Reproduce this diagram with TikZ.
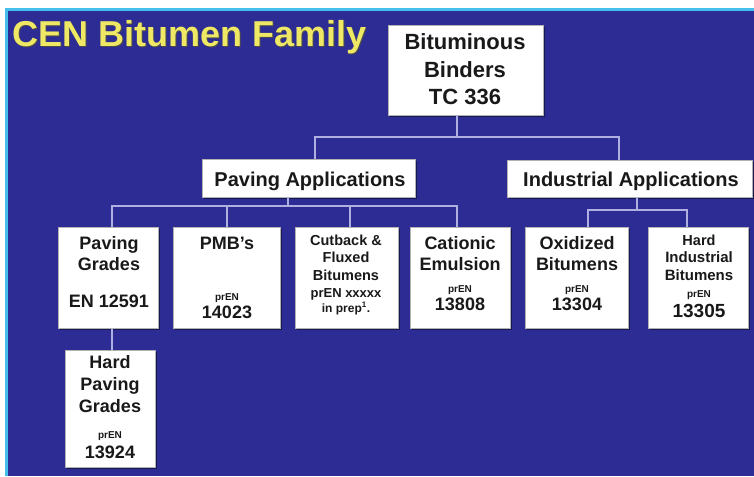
\documentclass[tikz,border=0pt]{standalone}
\usepackage{fontspec}
\setmainfont{Liberation Sans}
\usetikzlibrary{shadows}
\definecolor{bgblue}{RGB}{44,44,148}
\definecolor{edgecyan}{RGB}{70,190,235}
\definecolor{titleyellow}{RGB}{238,232,100}
\definecolor{connc}{RGB}{175,175,225}
\definecolor{txt}{RGB}{25,25,25}
\newcommand\myfs[1]{\fontsize{#1}{#1}\selectfont}
\tikzset{
  box/.style={draw=gray!60, line width=0.6pt, fill=white, inner sep=0pt,
    drop shadow={shadow xshift=2pt, shadow yshift=-2pt, opacity=0.45, fill=black}},
  conn/.style={draw=connc, line width=1.3pt},
  lbl/.style={anchor=base, inner sep=0pt, text=txt, font=\bfseries}
}
\begin{document}
\begin{tikzpicture}[x=1pt,y=-1pt]
\useasboundingbox (0,0) rectangle (754,476);
% background
\fill[white] (0,0) rectangle (754,476);
\fill[edgecyan] (5,8) rectangle (754,476);
\fill[bgblue] (8,11) rectangle (754,476);
% title
\node[anchor=base west, inner sep=0pt, text=black!70, font=\bfseries\myfs{36}] at (13,48) {CEN Bitumen Family};
\node[anchor=base west, inner sep=0pt, text=titleyellow, font=\bfseries\myfs{36}] (title) at (12,47) {CEN Bitumen Family};
% boxes
\node[box, minimum width=155pt, minimum height=90pt] (top) at (465.5,70) {};
\node[box, minimum width=213pt, minimum height=38pt] (pa) at (308.5,178) {};
\node[box, minimum width=245pt, minimum height=37pt] (ia) at (629.5,178.5) {};
\node[box, minimum width=100pt, minimum height=101pt] (pg) at (108,277.5) {};
\node[box, minimum width=107pt, minimum height=101pt] (pmb) at (226.5,277.5) {};
\node[box, minimum width=103pt, minimum height=101pt] (cut) at (346.5,277.5) {};
\node[box, minimum width=100pt, minimum height=101pt] (cat) at (460,277.5) {};
\node[box, minimum width=103pt, minimum height=101pt] (oxi) at (576.5,277.5) {};
\node[box, minimum width=100pt, minimum height=101pt] (hib) at (698,277.5) {};
\node[box, minimum width=90pt, minimum height=117pt] (hpg) at (110,408.5) {};
% junction coordinates
\coordinate (h1l) at (315,137);
\coordinate (h1r) at (619,137);
\coordinate (pj) at (288,206);
\coordinate (pl) at (112,206);
\coordinate (pr) at (457,206);
\coordinate (x2) at (227,206);
\coordinate (x3) at (350,206);
\coordinate (ij) at (637,210);
\coordinate (il) at (588,210);
\coordinate (ir) at (687,210);
% connectors
\draw[conn] (top.south -| 457,0) -- (h1l -| 457,0);
\draw[conn] (pa.north -| h1l) -- (h1l) -- (h1r) -- (ia.north -| h1r);
\draw[conn] (pa.south -| pj) -- (pj);
\draw[conn] (pg.north -| pl) -- (pl) -- (pr) -- (cat.north -| pr);
\draw[conn] (x2) -- (pmb.north -| x2);
\draw[conn] (x3) -- (cut.north -| x3);
\draw[conn] (ia.south -| ij) -- (ij);
\draw[conn] (oxi.north -| il) -- (il) -- (ir) -- (hib.north -| ir);
\draw[conn] (pg.south -| pl) -- (hpg.north -| pl);
% texts
\begin{scope}[every node/.style={lbl}]
% top
\node[font=\bfseries\myfs{22}] at (465,50) {Bituminous};
\node[font=\bfseries\myfs{22}] at (465,78) {Binders};
\node[font=\bfseries\myfs{22}] at (465,105) {TC 336};
% second level
\node[font=\bfseries\myfs{20}] at (310,186) {Paving Applications};
\node[font=\bfseries\myfs{20}] at (631,186) {Industrial Applications};
% paving grades
\node[font=\bfseries\myfs{18}] at (109,249) {Paving};
\node[font=\bfseries\myfs{18}] at (109,270) {Grades};
\node[font=\bfseries\myfs{18}] at (109,307) {EN 12591};
% PMB
\node[font=\bfseries\myfs{18}] at (227,249) {PMB’s};
\node[font=\bfseries\myfs{10}] at (227,300) {prEN};
\node[font=\bfseries\myfs{18}] at (227,318) {14023};
% cutback
\node[font=\bfseries\myfs{14.5}] at (346,245) {Cutback \&};
\node[font=\bfseries\myfs{14.5}] at (346,262) {Fluxed};
\node[font=\bfseries\myfs{14.5}] at (346,280) {Bitumens};
\node[font=\bfseries\myfs{13}] at (346,297) {prEN xxxxx};
\node[font=\bfseries\myfs{12}] at (346,312) {in prep\textsuperscript{1}.};
% cationic
\node[font=\bfseries\myfs{18}] at (460,249) {Cationic};
\node[font=\bfseries\myfs{18}] at (460,270) {Emulsion};
\node[font=\bfseries\myfs{10}] at (460,292) {prEN};
\node[font=\bfseries\myfs{18}] at (460,310) {13808};
% oxidized
\node[font=\bfseries\myfs{18}] at (577,249) {Oxidized};
\node[font=\bfseries\myfs{18}] at (577,270) {Bitumens};
\node[font=\bfseries\myfs{10}] at (577,292) {prEN};
\node[font=\bfseries\myfs{18}] at (577,310) {13304};
% hard industrial
\node[font=\bfseries\myfs{14.5}] at (699,245) {Hard};
\node[font=\bfseries\myfs{15}] at (699,262) {Industrial};
\node[font=\bfseries\myfs{15}] at (699,280) {Bitumens};
\node[font=\bfseries\myfs{10}] at (699,297) {prEN};
\node[font=\bfseries\myfs{19}] at (699,317) {13305};
% hard paving
\node[font=\bfseries\myfs{18}] at (110,368) {Hard};
\node[font=\bfseries\myfs{18}] at (110,390) {Paving};
\node[font=\bfseries\myfs{18}] at (110,412) {Grades};
\node[font=\bfseries\myfs{10}] at (110,438) {prEN};
\node[font=\bfseries\myfs{18}] at (110,458) {13924};
\end{scope}
\end{tikzpicture}
\end{document}
